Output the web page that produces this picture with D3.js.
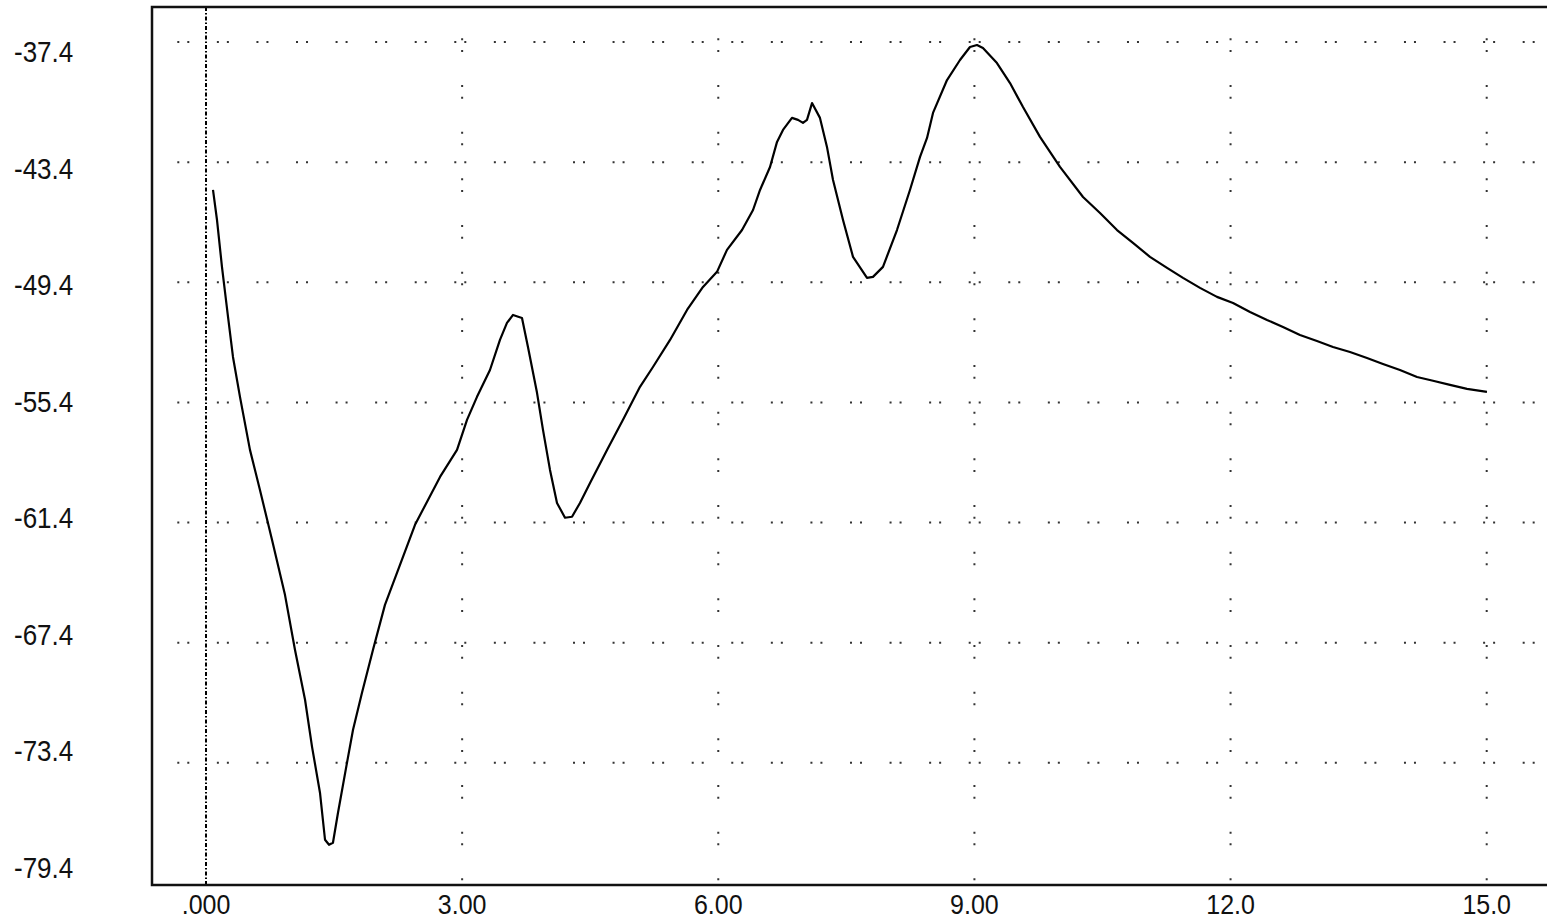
<!DOCTYPE html>
<html>
<head>
<meta charset="utf-8">
<script src="https://cdn.jsdelivr.net/npm/d3@7"></script>
<style>
  html, body { margin: 0; padding: 0; background: #fff; }
  svg { display: block; }
  text { font-family: "Liberation Sans", Arial, sans-serif; fill: #111; }
</style>
</head>
<body>
<svg id="chart" width="1547" height="920"></svg>
<script>
// ---- data ----
const xTickValues = [0, 3, 6, 9, 12, 15];
const xTickLabels = [".000", "3.00", "6.00", "9.00", "12.0", "15.0"];
const yTickValues = [-37.4, -43.4, -49.4, -55.4, -61.4, -67.4, -73.4, -79.4];
const yTickLabels = ["-37.4", "-43.4", "-49.4", "-55.4", "-61.4", "-67.4", "-73.4", "-79.4"];

const xs = [0.082, 0.129, 0.187, 0.258, 0.316, 0.398, 0.515, 0.632, 0.773, 0.925,
  1.042, 1.160, 1.242, 1.335, 1.394, 1.441, 1.487, 1.546, 1.651, 1.722,
  1.827, 1.956, 2.096, 2.272, 2.448, 2.600, 2.741, 2.940, 3.057, 3.174,
  3.326, 3.443, 3.525, 3.596, 3.701, 3.771, 3.877, 3.947, 4.029, 4.111,
  4.205, 4.287, 4.380, 4.498, 4.697, 4.884, 5.083, 5.235, 5.435, 5.634,
  5.821, 5.985, 6.102, 6.278, 6.407, 6.489, 6.606, 6.688, 6.758, 6.863,
  6.934, 6.992, 7.039, 7.098, 7.191, 7.273, 7.344, 7.461, 7.578, 7.742,
  7.812, 7.929, 8.093, 8.245, 8.363, 8.445, 8.515, 8.679, 8.831, 8.948,
  9.030, 9.100, 9.264, 9.417, 9.569, 9.768, 10.002, 10.272, 10.471, 10.670,
  10.857, 11.056, 11.256, 11.443, 11.642, 11.841, 12.029, 12.228, 12.427, 12.614,
  12.813, 13.012, 13.200, 13.399, 13.598, 13.785, 13.984, 14.184, 14.371, 14.570,
  14.769, 15.003];
const ys = [-44.79, -46.29, -48.63, -51.13, -53.13, -55.12, -57.77, -59.77, -62.26, -65.01,
  -67.75, -70.25, -72.60, -74.89, -77.24, -77.49, -77.39, -75.89, -73.40, -71.75,
  -69.90, -67.75, -65.51, -63.51, -61.51, -60.27, -59.12, -57.77, -56.27, -55.12,
  -53.78, -52.28, -51.43, -51.03, -51.18, -52.63, -54.92, -56.77, -58.77, -60.42,
  -61.16, -61.11, -60.42, -59.42, -57.77, -56.27, -54.62, -53.63, -52.28, -50.78,
  -49.63, -48.88, -47.78, -46.79, -45.79, -44.79, -43.64, -42.39, -41.79, -41.19,
  -41.29, -41.44, -41.29, -40.45, -41.19, -42.64, -44.29, -46.29, -48.13, -49.18,
  -49.13, -48.63, -46.79, -44.79, -43.14, -42.19, -40.94, -39.30, -38.30, -37.65,
  -37.55, -37.70, -38.45, -39.45, -40.65, -42.14, -43.64, -45.14, -45.94, -46.79,
  -47.43, -48.13, -48.68, -49.18, -49.68, -50.13, -50.43, -50.88, -51.28, -51.63,
  -52.03, -52.33, -52.63, -52.88, -53.18, -53.48, -53.78, -54.13, -54.32, -54.52,
  -54.72, -54.87];

// ---- layout ----
const svg = d3.select("#chart");
const frame = { left: 152, top: 7, right: 1560, bottom: 885 };

const x = d3.scaleLinear().domain([0, 15]).range([206, 1486.7]);
const y = d3.scaleLinear().domain([-37.4, -79.4]).range([42, 883]);
// tick labels are spaced slightly tighter than the grid in the original
const yLabel = d3.scaleLinear().domain([-37.4, -79.4]).range([62, 878]);

svg.append("defs").append("clipPath").attr("id", "plotclip")
  .append("rect")
  .attr("x", frame.left + 1).attr("y", frame.top + 1)
  .attr("width", frame.right - frame.left).attr("height", frame.bottom - frame.top - 2);

const grid = svg.append("g").attr("clip-path", "url(#plotclip)");

// horizontal dotted grid lines (the lowest one lies on the axis)
grid.selectAll("line.h").data(yTickValues.slice(0, -1)).enter().append("line")
  .attr("class", "h")
  .attr("x1", 177.3).attr("x2", 1560)
  .attr("y1", d => y(d)).attr("y2", d => y(d))
  .attr("stroke", "#333").attr("stroke-width", 2)
  .attr("stroke-dasharray", "2,8,2,27.57");

// vertical dotted grid lines (excluding zero)
grid.selectAll("line.v").data(xTickValues.filter(d => d !== 0)).enter().append("line")
  .attr("class", "v")
  .attr("x1", d => x(d)).attr("x2", d => x(d))
  .attr("y1", 38.3).attr("y2", frame.bottom)
  .attr("stroke", "#333").attr("stroke-width", 2)
  .attr("stroke-dasharray", "2,9.67,2,33");

// zero line, dash-dot
grid.append("line")
  .attr("x1", x(0)).attr("x2", x(0))
  .attr("y1", frame.top).attr("y2", frame.bottom)
  .attr("stroke", "#000").attr("stroke-width", 2)
  .attr("stroke-dasharray", "4,2,1.5,2");

// curve
const pts = xs.map((v, i) => [v, ys[i]]);
const line = d3.line().x(d => x(d[0])).y(d => y(d[1]));
grid.append("path")
  .datum(pts)
  .attr("d", line)
  .attr("fill", "none")
  .attr("stroke", "#000")
  .attr("stroke-width", 2.2)
  .attr("stroke-linejoin", "round");

// frame
svg.append("rect")
  .attr("x", frame.left).attr("y", frame.top)
  .attr("width", frame.right - frame.left).attr("height", frame.bottom - frame.top)
  .attr("fill", "none").attr("stroke", "#111").attr("stroke-width", 2.5);

// y labels
svg.selectAll("text.ylab").data(yTickValues).enter().append("text")
  .attr("class", "ylab")
  .attr("transform", d => `translate(14,${yLabel(d)}) scale(1,1.1)`)
  .attr("font-size", 26)
  .text((d, i) => yTickLabels[i]);

// x labels
svg.selectAll("text.xlab").data(xTickValues).enter().append("text")
  .attr("class", "xlab")
  .attr("transform", d => `translate(${x(d)},914) scale(1,1.08)`)
  .attr("text-anchor", "middle")
  .attr("font-size", 25)
  .text((d, i) => xTickLabels[i]);
</script>
</body>
</html>
